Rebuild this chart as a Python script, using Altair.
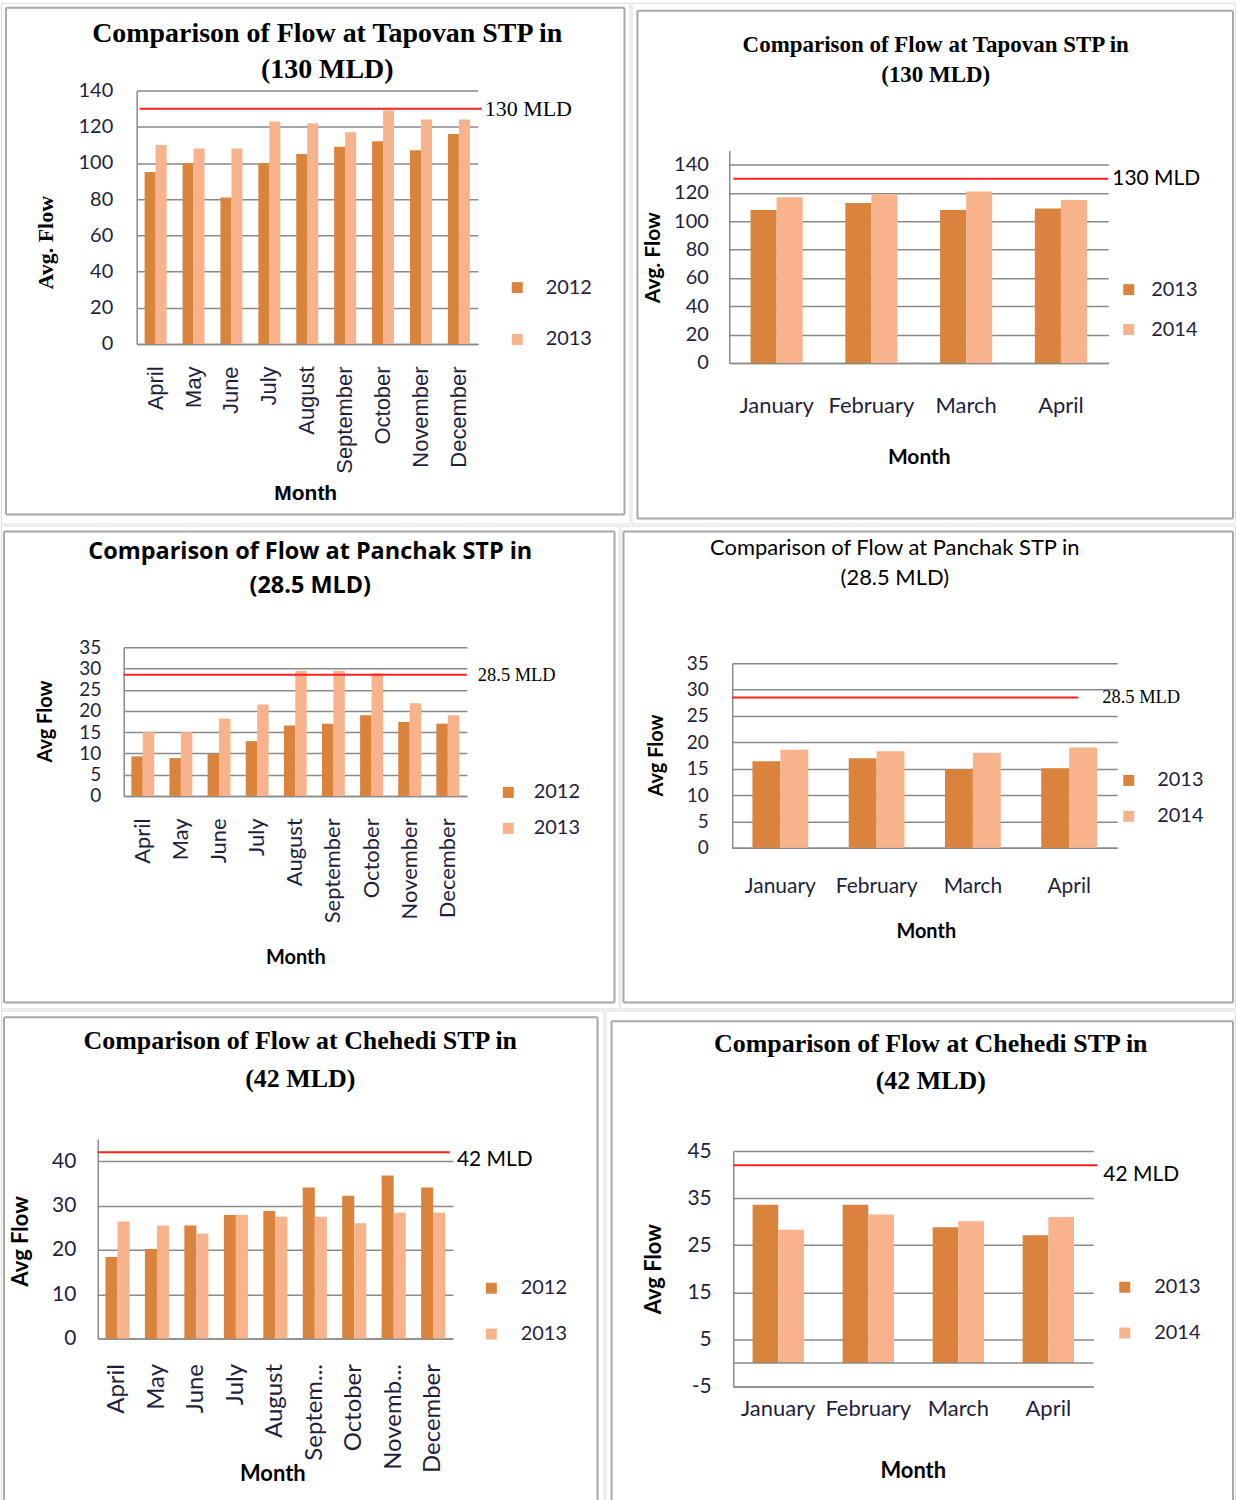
import altair as alt
import pandas as pd

SERIF = "Liberation Serif"
SANS = "Lato"
NARROW = "Liberation Sans Narrow, Liberation Sans"

DARK = "#D9833C"
LIGHT = "#F8B38C"
GRID = "#8a8a8a"
FRAME = "#a8a8a8"
CAP = "#ff2020"
INK = "#1f1f3d"

# ---- data -------------------------------------------------------------
months_apr_dec = ["April", "May", "June", "July", "August", "September",
                  "October", "November", "December"]
months_jan_apr = ["January", "February", "March", "April"]
chehedi_month_labels = ["April", "May", "June", "July", "August", "Septem...",
                        "October", "Novemb...", "December"]

# Tapovan STP (130 MLD)
tapovan_years_a = ["2012", "2013"]
tapovan_2012 = [95, 100, 81, 100, 105, 109, 112, 107, 116]
tapovan_2013 = [110, 108, 108, 123, 122, 117, 129, 124, 124]
tapovan_years_b = ["2013", "2014"]
tapovan_2013_q1 = [108, 113, 108, 109]
tapovan_2014_q1 = [117, 119, 121, 115]
tapovan_capacity = 130

# Panchak STP (28.5 MLD)
panchak_years_a = ["2012", "2013"]
panchak_2012 = [9.3, 8.9, 9.9, 12.9, 16.6, 17.0, 19.0, 17.4, 17.0]
panchak_2013 = [15.0, 15.0, 18.2, 21.5, 29.4, 29.4, 28.9, 21.8, 19.0]
panchak_years_b = ["2013", "2014"]
panchak_2013_q1 = [16.4, 17.0, 14.9, 15.1]
panchak_2014_q1 = [18.6, 18.3, 18.0, 19.0]
panchak_capacity = 28.5

# Chehedi STP (42 MLD)
chehedi_years_a = ["2012", "2013"]
chehedi_2012 = [18.4, 20.2, 25.5, 27.9, 28.8, 34.1, 32.2, 36.8, 34.1]
chehedi_2013 = [26.4, 25.5, 23.7, 27.9, 27.5, 27.5, 26.0, 28.4, 28.4]
chehedi_years_b = ["2013", "2014"]
chehedi_2013_q1 = [33.6, 33.6, 28.8, 27.1]
chehedi_2014_q1 = [28.3, 31.5, 30.1, 31.0]
chehedi_capacity = 42

ONE = pd.DataFrame({"k": [0]})


def text_layer(x, y, s, font, size, weight="normal"):
    return alt.Chart(ONE).mark_text(
        font=font, fontSize=size, fontWeight=weight, align="center",
        baseline="middle", color="black",
    ).encode(x=alt.value(x), y=alt.value(y), text=alt.value(s))


def edge(x1, y1, x2, y2):
    return alt.Chart(ONE).mark_rule(color=FRAME, strokeWidth=2).encode(
        x=alt.value(x1), y=alt.value(y1), x2=alt.value(x2), y2=alt.value(y2))


def panel(p):
    cx0, cy0, cx1, cy1 = p["cell"]
    CW, CH = cx1 - cx0, cy1 - cy0
    bx0, by0, bx1, by1 = [v - o if v is not None else None
                          for v, o in zip(p["border"], (cx0, cy0, cx0, cy0))]
    px0, py0, px1, py1 = p["plot"]
    # plot rectangle in cell coordinates
    X0, Y0, X1, Y1 = px0 - cx0, py0 - cy0, px1 - cx0, py1 - cy0

    months, years = p["months"], p["years"]
    n = len(months)
    df = pd.DataFrame({
        "Month": months * 2,
        "Year": [years[0]] * n + [years[1]] * n,
        "Flow": p["v1"] + p["v2"],
    })

    y_axis = alt.Axis(
        values=p["yticks"], title=p["ytitle"], offset=-X0,
        labelExpr="datum.value < 0 ? '-' + abs(datum.value) : datum.label",
        titleFont=p["ytitle_font"][0], titleFontSize=p["ytitle_font"][1],
        titleFontWeight="bold", titleColor="black",
        titleX=p["ytitle_pos"][0] - px0, titleY=p["ytitle_pos"][1] - cy0,
        titleAngle=270, titleAlign="center", titleBaseline="middle",
        labelFont=SANS, labelFontSize=p["ylabel_size"], labelColor=INK,
        labelPadding=p["ylabel_pad"], labelOverlap=False, labelFlush=False,
        grid=True, gridColor=GRID, gridWidth=1.5,
        domainColor=GRID, domainWidth=1.5, ticks=False,
    )
    x_axis = alt.Axis(
        title="Month", offset=-(CH - Y1),
        titleFont=p["xtitle_font"][0], titleFontSize=p["xtitle_font"][1],
        titleFontWeight="bold", titleColor="black",
        titleX=p["xtitle_pos"][0] - cx0, titleY=p["xtitle_pos"][1] - py1,
        titleAlign="center", titleBaseline="middle", titleAngle=0,
        labelFont=p["xlabel_font"][0], labelFontSize=p["xlabel_font"][1],
        labelAngle=p["xangle"], labelPadding=p["xlabel_pad"], labelColor=INK,
        labelOverlap=False, labelLimit=300,
        grid=False, ticks=False, domainColor=GRID, domainWidth=1.5,
    )
    lx, ly = p["legend_center"]
    legend = alt.Legend(
        orient="none", legendX=lx - 10.5 - cx0, legendY=ly - 10.5 - cy0,
        title=None, padding=0, symbolType="square", symbolSize=121,
        symbolStrokeWidth=0, labelFont=SANS, labelFontSize=20, labelColor=INK,
        rowPadding=p["legend_gap"] - 20, labelOffset=p["legend_label_x"] - (lx + 5.5) - 5,
    )
    pad = p["band_pad"]
    bars = alt.Chart(df).mark_bar().encode(
        x=alt.X("Month:N", sort=months,
                scale=alt.Scale(paddingInner=pad, paddingOuter=pad / 2, range=[X0, X1]),
                axis=x_axis),
        xOffset=alt.XOffset("Year:N", sort=years),
        y=alt.Y("Flow:Q", scale=alt.Scale(domain=list(p["ydomain"]), nice=False,
                                          range=[Y1, Y0]),
                axis=y_axis),
        color=alt.Color("Year:N", sort=years,
                        scale=alt.Scale(domain=years, range=[DARK, LIGHT]), legend=legend),
    )

    # transparent cell filler keeps every panel's extent exact
    filler = alt.Chart(ONE).mark_rect(fill="white", fillOpacity=0, strokeWidth=0).encode(
        x=alt.value(0), x2=alt.value(CW), y=alt.value(0), y2=alt.value(CH))
    frame = [edge(bx0, by0, bx1, by0), edge(bx0, by0, bx0, CH), edge(bx1, by0, bx1, CH)]
    if by1 is not None:
        frame = [edge(bx0, by0, bx1, by0), edge(bx0, by0, bx0, by1),
                 edge(bx1, by0, bx1, by1), edge(bx0, by1, bx1, by1)]

    cap = p["cap"]
    cap_df = pd.DataFrame({"cap": [cap]})
    cap_rule = alt.Chart(cap_df).mark_rule(color=CAP, strokeWidth=2).encode(
        y=alt.Y("cap:Q", axis=None),
        x=alt.value(p["cap_x"][0] - cx0), x2=alt.value(p["cap_x"][1] - cx0))
    cf, cs = p["cap_font"]
    cap_text = alt.Chart(cap_df).mark_text(
        font=cf, fontSize=cs, align="left", baseline="middle", dy=p["cap_dy"], color="black"
    ).encode(y=alt.Y("cap:Q", axis=None), x=alt.value(p["cap_label_x"] - cx0),
             text=alt.value(f"{cap:g} MLD"))

    tf, ts, tw = p["title_font"]
    tx = p["title_x"] - cx0
    t1 = text_layer(tx, p["title_y"][0] - cy0, p["title"][0], tf, ts, tw)
    t2 = text_layer(tx, p["title_y"][1] - cy0, p["title"][1], tf, ts, tw)

    layers = [filler] + frame + [bars, cap_rule, cap_text, t1, t2]
    if p.get("zero_line"):
        layers.append(alt.Chart(pd.DataFrame({"z": [0]})).mark_rule(
            color=GRID, strokeWidth=1.5).encode(
            y=alt.Y("z:Q", axis=None), x=alt.value(X0), x2=alt.value(X1)))
    return alt.layer(*layers).resolve_axis(y="independent").properties(width=CW, height=CH)


panels = {
    "A": dict(
        cell=(0, 0, 630, 522), border=(5, 5, 625, 513), plot=(136, 88, 478, 342),
        months=months_apr_dec, years=tapovan_years_a, v1=tapovan_2012, v2=tapovan_2013,
        ydomain=(0, 140), yticks=list(range(0, 141, 20)),
        title=["Comparison of Flow at Tapovan STP in", "(130 MLD)"],
        title_font=(SERIF, 28, "bold"), title_x=327, title_y=(31, 67),
        ytitle="Avg. Flow", ytitle_font=(SERIF, 22), ytitle_pos=(45, 240),
        xtitle_font=(NARROW, 21), xtitle_pos=(305, 492),
        ylabel_size=20, ylabel_pad=24,
        xlabel_font=("Liberation Sans", 22), xangle=-90, xlabel_pad=22,
        cap=tapovan_capacity, cap_x=(139, 482), cap_label_x=485, cap_font=(SERIF, 22), cap_dy=0,
        legend_center=(518, 286), legend_gap=52, legend_label_x=547, band_pad=0.42,
    ),
    "B": dict(
        cell=(630, 0, 1235, 522), border=(636, 8, 1233, 517), plot=(728, 148, 1108, 361),
        months=months_jan_apr, years=tapovan_years_b, v1=tapovan_2013_q1, v2=tapovan_2014_q1,
        ydomain=(0, 150), yticks=list(range(0, 141, 20)),
        title=["Comparison of Flow at Tapovan STP in", "(130 MLD)"],
        title_font=(SERIF, 23, "bold"), title_x=935, title_y=(42, 72),
        ytitle="Avg. Flow", ytitle_font=(SANS, 21), ytitle_pos=(652, 255),
        xtitle_font=(SANS, 21), xtitle_pos=(918, 456),
        ylabel_size=20, ylabel_pad=21,
        xlabel_font=(SANS, 22), xangle=0, xlabel_pad=33,
        cap=tapovan_capacity, cap_x=(732, 1108), cap_label_x=1112, cap_font=(SANS, 21), cap_dy=0,
        legend_center=(1129, 288), legend_gap=40, legend_label_x=1152, band_pad=0.45,
    ),
    "C": dict(
        cell=(0, 522, 619, 1006), border=(3, 528, 615, 1000), plot=(123, 644, 467, 793),
        months=months_apr_dec, years=panchak_years_a, v1=panchak_2012, v2=panchak_2013,
        ydomain=(0, 35), yticks=list(range(0, 36, 5)),
        title=["Comparison of Flow at Panchak STP in", "(28.5 MLD)"],
        title_font=("Open Sans", 23.5, "bold"), title_x=310, title_y=(549, 583),
        ytitle="Avg Flow", ytitle_font=(SANS, 20), ytitle_pos=(45, 718),
        xtitle_font=(SANS, 20), xtitle_pos=(295, 955),
        ylabel_size=19, ylabel_pad=23,
        xlabel_font=(SANS, 22), xangle=-90, xlabel_pad=22,
        cap=panchak_capacity, cap_x=(123, 467), cap_label_x=478, cap_font=(SERIF, 18.5), cap_dy=0,
        legend_center=(509, 790), legend_gap=36, legend_label_x=535, band_pad=0.4,
    ),
    "D": dict(
        cell=(619, 522, 1235, 1006), border=(622, 528, 1233, 1000), plot=(731, 660, 1117, 845),
        months=months_jan_apr, years=panchak_years_b, v1=panchak_2013_q1, v2=panchak_2014_q1,
        ydomain=(0, 35), yticks=list(range(0, 36, 5)),
        title=["Comparison of Flow at Panchak STP in", "(28.5 MLD)"],
        title_font=(SANS, 22, "normal"), title_x=894, title_y=(545, 575),
        ytitle="Avg Flow", ytitle_font=(SANS, 20), ytitle_pos=(655, 752),
        xtitle_font=(SANS, 20), xtitle_pos=(925, 929),
        ylabel_size=19, ylabel_pad=24,
        xlabel_font=(SANS, 21), xangle=0, xlabel_pad=28,
        cap=panchak_capacity, cap_x=(731, 1078), cap_label_x=1102, cap_font=(SERIF, 18.5), cap_dy=0,
        legend_center=(1129, 778), legend_gap=36, legend_label_x=1158, band_pad=0.42,
    ),
    "E": dict(
        cell=(0, 1006, 604, 1499), border=(3, 1013, 598, None), plot=(97, 1135, 453, 1335),
        months=chehedi_month_labels, years=chehedi_years_a, v1=chehedi_2012, v2=chehedi_2013,
        ydomain=(0, 45), yticks=list(range(0, 41, 10)),
        title=["Comparison of Flow at Chehedi STP in", "(42 MLD)"],
        title_font=(SERIF, 26, "bold"), title_x=300, title_y=(1037, 1075),
        ytitle="Avg Flow", ytitle_font=(SANS, 22), ytitle_pos=(20, 1237),
        xtitle_font=(SANS, 22), xtitle_pos=(272, 1470),
        ylabel_size=21, ylabel_pad=22,
        xlabel_font=(SANS, 24), xangle=-90, xlabel_pad=25,
        cap=chehedi_capacity, cap_x=(97, 450), cap_label_x=457, cap_font=(SANS, 21), cap_dy=8,
        legend_center=(492, 1285), legend_gap=46, legend_label_x=522, band_pad=0.39,
    ),
    "F": dict(
        cell=(604, 1006, 1235, 1499), border=(610, 1017, 1233, None), plot=(732, 1147, 1093, 1383),
        months=months_jan_apr, years=chehedi_years_b, v1=chehedi_2013_q1, v2=chehedi_2014_q1,
        ydomain=(-5, 45), yticks=[-5, 5, 15, 25, 35, 45],
        title=["Comparison of Flow at Chehedi STP in", "(42 MLD)"],
        title_font=(SERIF, 26, "bold"), title_x=930, title_y=(1040, 1077),
        ytitle="Avg Flow", ytitle_font=(SANS, 22), ytitle_pos=(652, 1265),
        xtitle_font=(SANS, 22), xtitle_pos=(912, 1467),
        ylabel_size=21, ylabel_pad=22,
        xlabel_font=(SANS, 22), xangle=0, xlabel_pad=12,
        cap=chehedi_capacity, cap_x=(732, 1097), cap_label_x=1103, cap_font=(SANS, 21), cap_dy=10,
        legend_center=(1125, 1284), legend_gap=46, legend_label_x=1155, band_pad=0.43,
        zero_line=True,
    ),
}

charts = {k: panel(v) for k, v in panels.items()}


def row(a, b):
    return alt.hconcat(a, b, spacing=0).resolve_scale(
        x="independent", y="independent", color="independent", xOffset="independent"
    ).resolve_legend(color="independent")


chart = alt.vconcat(
    row(charts["A"], charts["B"]),
    row(charts["C"], charts["D"]),
    row(charts["E"], charts["F"]),
    spacing=0,
).resolve_scale(
    x="independent", y="independent", color="independent", xOffset="independent"
).resolve_legend(color="independent").properties(
    padding=0, background="white",
).configure_view(strokeWidth=0, stroke=None).configure(font=SANS)

chart.save("out.html", embed_options={"renderer": "svg", "actions": False})
